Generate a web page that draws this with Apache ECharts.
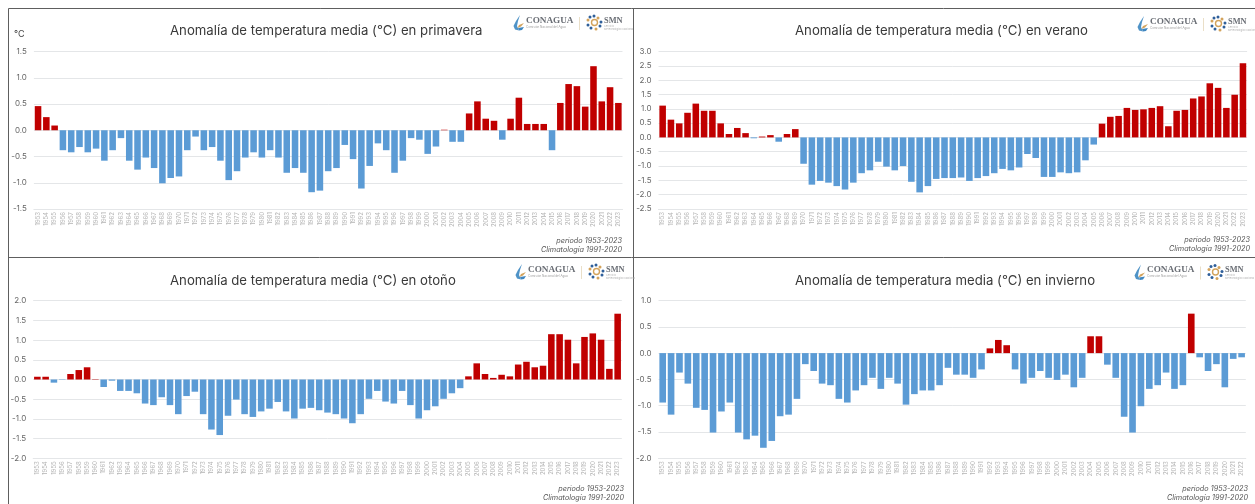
<!DOCTYPE html>
<html><head><meta charset="utf-8">
<style>html,body{margin:0;padding:0;background:#fff}#c{width:1255px;height:504px;filter:blur(0.4px)}</style>
<script src="https://cdn.jsdelivr.net/npm/echarts@6/dist/echarts.min.js"></script>
</head><body><div id="c"></div>
<script>
const firstYear = 1953;
const primavera = [.46,.25,.09,-.38,-.42,-.32,-.42,-.35,-.58,-.38,-.15,-.58,-.75,-.52,-.72,-1.01,-.91,-.88,-.38,-.12,-.38,-.32,-.58,-.95,-.78,-.52,-.42,-.52,-.38,-.52,-.81,-.72,-.81,-1.18,-1.15,-.78,-.72,-.28,-.55,-1.11,-.68,-.25,-.38,-.81,-.58,-.15,-.18,-.45,-.31,.01,-.22,-.22,.32,.55,.22,.18,-.18,.22,.62,.12,.12,.12,-.38,.52,.88,.84,.45,1.22,.55,.82,.52];
const verano = [1.11,.62,.49,.86,1.18,.93,.93,.49,.12,.33,.15,-.03,.03,.08,-.15,.12,.29,-.92,-1.65,-1.52,-1.58,-1.70,-1.82,-1.58,-1.25,-1.15,-.85,-1.02,-1.15,-1.0,-1.55,-1.92,-1.70,-1.45,-1.42,-1.42,-1.40,-1.52,-1.42,-1.35,-1.25,-1.10,-1.15,-1.05,-.58,-.72,-1.38,-1.38,-1.22,-1.25,-1.22,-.80,-.25,.48,.72,.75,1.03,.96,.98,1.03,1.09,.39,.93,.96,1.36,1.43,1.89,1.73,1.03,1.49,2.59];
const otono = [.07,.07,-.08,-.01,.14,.24,.31,.01,-.19,-.03,-.29,-.29,-.35,-.61,-.65,-.45,-.65,-.88,-.42,-.31,-.88,-1.27,-1.41,-.92,-.51,-.88,-.95,-.81,-.74,-.57,-.81,-.99,-.74,-.72,-.78,-.84,-.88,-.99,-1.11,-.88,-.49,-.29,-.56,-.61,-.29,-.65,-.99,-.78,-.68,-.49,-.35,-.22,.08,.41,.14,.04,.12,.08,.38,.45,.31,.35,1.15,1.15,1.01,.41,1.08,1.17,1.01,.27,1.67];
const invierno = [-.94,-1.17,-.37,-.58,-1.04,-1.08,-1.51,-1.11,-.94,-1.51,-1.64,-1.57,-1.80,-1.67,-1.20,-1.17,-.87,-.21,-.34,-.58,-.61,-.87,-.94,-.71,-.61,-.47,-.68,-.47,-.58,-.98,-.78,-.71,-.71,-.61,-.28,-.41,-.41,-.47,-.31,.09,.25,.15,-.31,-.58,-.47,-.34,-.47,-.51,-.41,-.65,-.47,.32,.32,-.22,-.47,-1.21,-1.51,-1.01,-.68,-.61,-.37,-.68,-.61,.75,-.08,-.34,-.21,-.65,-.11,-.08];
const titles = ['Anomalía de temperatura media (°C) en primavera','Anomalía de temperatura media (°C) en verano','Anomalía de temperatura media (°C) en otoño','Anomalía de temperatura media (°C) en invierno'];
const noteLines = ['periodo 1953-2023','Climatología 1991-2020'];
const red='#c00000', blue='#5b9bd5', grid='#e4e6e8', ink='#3a3a3a', axisInk='#666', yearInk='#b4b4b4';
const font='Inter, "Open Sans", sans-serif';

const panels = [
 {data:primavera, min:-1.5, max:1.5, left:33.9, top:51.5, w:588.6, h:157.5, tx:170, ty:31, nx:622, ny:241, lx:0,   ly:0},
 {data:verano,    min:-2.5, max:3.0, left:658.5,top:51.5, w:588.6, h:157.5, tx:795, ty:31, nx:1250,ny:240, lx:624, ly:1},
 {data:otono,     min:-2.0, max:2.0, left:33.2, top:300.7,w:588.6, h:157.6, tx:170, ty:280.7,nx:624,ny:489, lx:2,  ly:249},
 {data:invierno,  min:-2.0, max:1.0, left:658.5,top:300.5,w:587.3, h:157.8, tx:795, ty:280.7,nx:1248,ny:489,lx:621,ly:249.5}
];
function logo(dx,dy){
  const g=[];
  const t=(x,y,text,size,fill,fam,weight,extra)=>g.push({type:'text',silent:true,x:x+dx,y:y+dy,style:Object.assign({text,fontSize:size,fill,fontFamily:fam||font,fontWeight:weight||'normal',textVerticalAlign:'middle'},extra||{})});
  g.push({type:'polygon',silent:true,shape:{points:[[520+dx,15+dy],[516+dx,21+dy],[513.5+dx,26+dy],[515+dx,29.5+dy],[519+dx,30.5+dy],[517+dx,26+dy],[518+dx,21+dy]]},style:{fill:'#4f93c7'}});
  g.push({type:'polygon',silent:true,shape:{points:[[524+dx,23+dy],[519+dx,25+dy],[517.5+dx,28+dy],[521+dx,26.5+dy]]},style:{fill:'#d3a35c'}});
  g.push({type:'polygon',silent:true,shape:{points:[[518+dx,28+dy],[524+dx,27+dy],[522+dx,30+dy],[519+dx,30.5+dy]]},style:{fill:'#3f86c0'}});
  t(526,20.5,'CONAGUA',9.2,'#6b6f76','"Liberation Serif"','bold');
  t(526,27,'Comisión Nacional del Agua',3,'#a0a0a0');
  g.push({type:'rect',silent:true,shape:{x:579+dx,y:17+dy,width:1,height:13},style:{fill:'#eadfc8'}});
  const ring=[[590,17],[594,16],[598,18],[601,22],[600,26],[596,29],[591,28],[588,25],[588,20]];
  ring.forEach((p,i)=>g.push({type:'circle',silent:true,shape:{cx:p[0]+dx,cy:p[1]+dy,r:1.5},style:{fill:i%3==2?'#d3a35c':'#2f5f9a'}}));
  g.push({type:'circle',silent:true,shape:{cx:594.5+dx,cy:22.5+dy,r:3},style:{fill:'#fff',stroke:'#d3a35c',lineWidth:1.4}});
  t(604,20.5,'SMN',8.4,'#6b6f76','"Liberation Serif"','bold');
  t(604,26,'Servicio',2.6,'#b0b0b0');
  t(604,29,'Meteorológico Nacional',2.6,'#b0b0b0');
  return g;
}
const graphic=[
  {type:'polyline',silent:true,shape:{points:[[1255,8.5],[8.5,8.5],[8.5,504]]},style:{fill:'none',stroke:'#5e5e5e',lineWidth:1}},
  {type:'line',silent:true,shape:{x1:8,y1:257.5,x2:1255,y2:257.5},style:{stroke:'#5e5e5e',lineWidth:1}},
  {type:'line',silent:true,shape:{x1:633.5,y1:8,x2:633.5,y2:504},style:{stroke:'#5e5e5e',lineWidth:1}},
  {type:'text',silent:true,x:14,y:34.5,style:{text:'°C',fontSize:9,fill:'#444',fontFamily:font,textVerticalAlign:'middle'}}
];
panels.forEach(p=>{
  noteLines.forEach((s,i)=>graphic.push({type:'text',silent:true,x:p.nx,y:p.ny+i*8.4,style:{text:s,fontSize:7.25,fontStyle:'italic',fill:'#555',fontFamily:font,textAlign:'right',textVerticalAlign:'middle'}}));
  graphic.push(...logo(p.lx,p.ly));
});
const option={
  animation:false,backgroundColor:'#fff',
  title:panels.map((p,i)=>({text:titles[i],left:p.tx,top:p.ty-6.5,padding:0,textStyle:{fontSize:13.2,fontWeight:'normal',color:ink,fontFamily:font}})),
  grid:panels.map(p=>({left:p.left,top:p.top,width:p.w,height:p.h,containLabel:false})),
  xAxis:panels.map((p,i)=>({type:'category',gridIndex:i,position:'bottom',
    data:p.data.map((_,k)=>String(firstYear+k)),
    axisLine:{onZero:false,lineStyle:{color:grid,width:1}},axisTick:{show:false},
    axisLabel:{interval:0,rotate:90,fontSize:6,color:yearInk,margin:3,fontFamily:font},
    splitLine:{show:false}})),
  yAxis:panels.map((p,i)=>({type:'value',gridIndex:i,min:p.min,max:p.max,interval:.5,
    axisLine:{show:false},axisTick:{show:false},
    axisLabel:{formatter:v=>v.toFixed(1),fontSize:8,color:axisInk,margin:7,fontFamily:font},
    splitLine:{lineStyle:{color:grid,width:1}}})),
  series:panels.map((p,i)=>({type:'bar',xAxisIndex:i,yAxisIndex:i,data:p.data,barCategoryGap:'21%',
    itemStyle:{color:c=>c.value>=0?red:blue}})),
  graphic:{elements:graphic}
};
echarts.init(document.getElementById('c'),null,{renderer:'canvas'}).setOption(option);
</script></body></html>
